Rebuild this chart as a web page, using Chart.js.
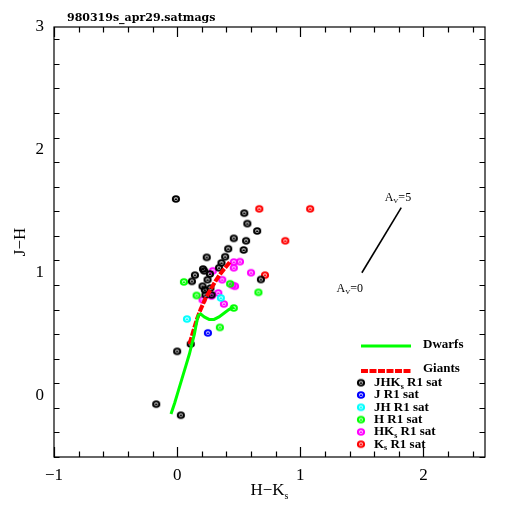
<!DOCTYPE html>
<html lang="en">
<head>
<meta charset="UTF-8">
<title>980319s_apr29.satmags</title>
<script src="https://cdn.jsdelivr.net/npm/chart.js"></script>
<style>
    body { margin: 0; background: #fff; }
    #wrap { width: 512px; height: 512px; }
</style>
</head>
<body>
<div id="wrap"><canvas id="chart" width="512" height="512"></canvas></div>
<script>
// axis ranges and tick labels
const xRange = [-1, 2.5];
const yRange = [-0.5, 3];
const xTickLabels = [-1, 0, 1, 2];
const yTickLabels = [0, 1, 2, 3];

// model sequences (H-Ks, J-H)
const dwarfsX = [-0.05, -0.02, 0.01, 0.04, 0.07, 0.10, 0.12, 0.14, 0.155, 0.17, 0.19, 0.22, 0.26, 0.30, 0.34, 0.38, 0.42, 0.46];
const dwarfsY = [-0.15, -0.06, 0.04, 0.14, 0.24, 0.34, 0.42, 0.50, 0.58, 0.65, 0.665, 0.64, 0.62, 0.62, 0.64, 0.67, 0.70, 0.72];
const giantsX = [0.10, 0.13, 0.16, 0.19, 0.23, 0.27, 0.31, 0.35, 0.39, 0.43];
const giantsY = [0.42, 0.52, 0.62, 0.70, 0.79, 0.86, 0.93, 0.99, 1.04, 1.09];

// reddening vector A_V = 0 .. 5
const vectorX = [1.50, 1.82];
const vectorY = [1.00, 1.53];

// saturated sources
const jhksX = [-0.01, 0.545, 0.57, 0.65, 0.46, 0.56, 0.415, 0.54, 0.24, 0.39, 0.36, 0.21, 0.22, 0.144, 0.12, 0.247, 0.34, 0.266, 0.206, 0.225, 0.28, 0.27, 0.23, 0.68, 0.0, -0.17, 0.03, 0.11];
const jhksY = [1.60, 1.485, 1.40, 1.34, 1.28, 1.26, 1.195, 1.185, 1.125, 1.13, 1.08, 1.03, 1.015, 0.98, 0.93, 0.943, 1.04, 0.99, 0.89, 0.86, 0.82, 0.875, 0.82, 0.945, 0.36, -0.07, -0.16, 0.42];
const jX = [0.25];
const jY = [0.51];
const jhX = [0.355, 0.08];
const jhY = [0.795, 0.623];
const hX = [0.055, 0.158, 0.43, 0.66, 0.46, 0.347];
const hY = [0.925, 0.815, 0.91, 0.84, 0.713, 0.555];
const hksX = [0.29, 0.366, 0.51, 0.46, 0.46, 0.47, 0.45, 0.334, 0.28, 0.206, 0.38, 0.60];
const hksY = [1.015, 0.943, 1.09, 1.087, 1.04, 0.89, 0.897, 0.835, 0.81, 0.78, 0.745, 1.0];
const ksX = [0.667, 1.08, 0.878, 0.713];
const ksY = [1.52, 1.52, 1.26, 0.98];

const pointNames = ['JHK_s R1 sat', 'J R1 sat', 'JH R1 sat', 'H R1 sat', 'HK_s R1 sat', 'K_s R1 sat'];
const pointColors = ['#000000', '#0000ff', '#00ffff', '#00ff00', '#ff00ff', '#ff0000'];

const FONT = '"Liberation Serif", "DejaVu Serif", serif';

function pairs(xs, ys) {
    return xs.map((x, i) => ({ x: x, y: ys[i] }));
}

// small open circle with a dash inside, like the pgplot marker
function makeMarker(color) {
    const c = document.createElement('canvas');
    c.width = 10; c.height = 10;
    const g = c.getContext('2d');
    g.strokeStyle = color;
    g.lineWidth = 2;
    g.beginPath();
    g.ellipse(5, 5, 3.1, 2.8, 0, 0, Math.PI * 2);
    g.stroke();
    g.lineWidth = 1.6;
    g.beginPath();
    g.moveTo(3.6, 5.2);
    g.lineTo(6.4, 5.2);
    g.stroke();
    return c;
}
const markers = pointColors.map(makeMarker);

// draws text where "_x" puts x as a subscript
function drawSubText(ctx, text, x, y, size) {
    let cx = x;
    for (let i = 0; i < text.length; i++) {
        if (text[i] === '_' && i + 1 < text.length) {
            ctx.save();
            ctx.font = ctx.font.replace(/\d+px/, Math.round(size * 0.6) + 'px');
            ctx.fillText(text[i + 1], cx, y + size * 0.3);
            cx += ctx.measureText(text[i + 1]).width;
            ctx.restore();
            i++;
        } else {
            ctx.fillText(text[i], cx, y);
            cx += ctx.measureText(text[i]).width;
        }
    }
    return cx - x;
}
function measureSubText(ctx, text, size) {
    let w = 0;
    for (let i = 0; i < text.length; i++) {
        if (text[i] === '_' && i + 1 < text.length) {
            ctx.save();
            ctx.font = ctx.font.replace(/\d+px/, Math.round(size * 0.6) + 'px');
            w += ctx.measureText(text[i + 1]).width;
            ctx.restore();
            i++;
        } else {
            w += ctx.measureText(text[i]).width;
        }
    }
    return w;
}

// box, inside ticks, titles, labels and legend
const framePlugin = {
    id: 'frame',
    afterDraw(chart) {
        const ctx = chart.ctx;
        const a = chart.chartArea;
        const xs = chart.scales.x, ys = chart.scales.y;
        ctx.save();
        ctx.strokeStyle = '#000';
        ctx.lineWidth = 1.2;
        ctx.strokeRect(a.left, a.top, a.right - a.left, a.bottom - a.top);

        ctx.beginPath();
        for (let v = xRange[0]; v <= xRange[1] + 1e-6; v += 0.2) {
            const px = Math.round(xs.getPixelForValue(v)) + 0.5;
            const major = Math.abs(v - Math.round(v)) < 1e-6;
            const len = major ? 10 : 5.5;
            ctx.moveTo(px, a.bottom); ctx.lineTo(px, a.bottom - len);
            ctx.moveTo(px, a.top); ctx.lineTo(px, a.top + len);
        }
        for (let v = yRange[0]; v <= yRange[1] + 1e-6; v += 0.2) {
            const py = Math.round(ys.getPixelForValue(v)) + 0.5;
            const major = Math.abs(v - Math.round(v)) < 1e-6;
            const len = major ? 10 : 5.5;
            ctx.moveTo(a.left, py); ctx.lineTo(a.left + len, py);
            ctx.moveTo(a.right, py); ctx.lineTo(a.right - len, py);
        }
        ctx.stroke();

        ctx.fillStyle = '#000';
        // file name
        ctx.font = 'bold 11px "DejaVu Serif", serif';
        ctx.textBaseline = 'middle';
        ctx.textAlign = 'left';
        ctx.fillText('980319s_apr29.satmags', 67, 18);

        // axis titles
        ctx.font = '17px ' + FONT;
        const xt = 'H\u2212K_s';
        const w = measureSubText(ctx, xt, 17);
        drawSubText(ctx, xt, (a.left + a.right) / 2 - w / 2, 491, 17);
        ctx.save();
        ctx.translate(21, 242);
        ctx.rotate(-Math.PI / 2);
        ctx.textAlign = 'center';
        ctx.fillText('J\u2212H', 0, 0);
        ctx.restore();

        // reddening vector labels
        ctx.font = '12px ' + FONT;
        drawSubText(ctx, 'A_V=5', xs.getPixelForValue(1.685), ys.getPixelForValue(1.61), 12);
        drawSubText(ctx, 'A_V=0', xs.getPixelForValue(1.295), ys.getPixelForValue(0.87), 12);

        // legend
        const lx = 361, tx = 374;
        ctx.lineWidth = 3;
        ctx.strokeStyle = '#00ff00';
        ctx.beginPath(); ctx.moveTo(lx, 346); ctx.lineTo(lx + 50, 346); ctx.stroke();
        ctx.lineWidth = 4;
        ctx.strokeStyle = '#ff0000';
        ctx.setLineDash([7, 1.5]);
        ctx.beginPath(); ctx.moveTo(lx, 371); ctx.lineTo(lx + 50, 371); ctx.stroke();
        ctx.setLineDash([]);
        ctx.font = 'bold 13px ' + FONT;
        ctx.fillText('Dwarfs', 423, 345);
        ctx.fillText('Giants', 423, 369);
        pointNames.forEach((name, i) => {
            const y = 382.7 + i * 12.3;
            ctx.drawImage(markers[i], lx - 5, y - 5);
            drawSubText(ctx, name, tx, y, 13);
        });
        ctx.restore();
    }
};

const pointSets = [[jhksX, jhksY], [jX, jY], [jhX, jhY], [hX, hY], [hksX, hksY], [ksX, ksY]];

const datasets = [
    { label: 'Dwarfs', type: 'line', data: pairs(dwarfsX, dwarfsY), borderColor: '#00ff00', borderWidth: 3, pointRadius: 0, fill: false },
    { label: 'Giants', type: 'line', data: pairs(giantsX, giantsY), borderColor: '#ff0000', borderWidth: 4, borderDash: [7, 1.5], pointRadius: 0, fill: false },
    { label: 'Av', type: 'line', data: pairs(vectorX, vectorY), borderColor: '#000000', borderWidth: 1.6, pointRadius: 0, fill: false }
].concat(pointSets.map((s, i) => ({
    label: pointNames[i],
    type: 'scatter',
    data: pairs(s[0], s[1]),
    pointStyle: markers[i],
    pointRadius: 5,
    borderColor: pointColors[i]
})));

new Chart(document.getElementById('chart'), {
    type: 'scatter',
    data: { datasets: datasets },
    options: {
        responsive: false,
        animation: false,
        layout: { padding: { top: 27, right: 27, left: 0, bottom: 0 } },
        plugins: { legend: { display: false }, tooltip: { enabled: false } },
        scales: {
            x: {
                type: 'linear', min: xRange[0], max: xRange[1],
                grid: { display: false, drawTicks: false },
                border: { display: false },
                afterBuildTicks: s => { s.ticks = xTickLabels.map(v => ({ value: v })); },
                afterFit: s => { s.height = 55; },
                ticks: {
                    color: '#000', padding: 8,
                    font: { family: FONT, size: 17 },
                    callback: v => String(v).replace('-', '\u2212')
                }
            },
            y: {
                type: 'linear', min: yRange[0], max: yRange[1],
                grid: { display: false, drawTicks: false },
                border: { display: false },
                afterBuildTicks: s => { s.ticks = yTickLabels.map(v => ({ value: v })); },
                afterFit: s => { s.width = 54; },
                ticks: {
                    color: '#000', padding: 10,
                    font: { family: FONT, size: 17 }
                }
            }
        }
    },
    plugins: [framePlugin]
});
</script>
</body>
</html>
